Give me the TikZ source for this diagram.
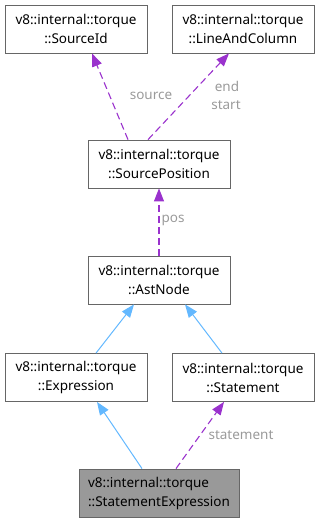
\documentclass[tikz,border=0pt]{standalone}
\usepackage{fontspec}
\setmainfont{Noto Sans}
\usetikzlibrary{arrows.meta}
\definecolor{inh}{HTML}{63B8FF}
\definecolor{use}{HTML}{9A32CD}
\definecolor{lbl}{HTML}{9A9A9A}
\definecolor{frame}{HTML}{666666}
\begin{document}
\begin{tikzpicture}[x=1pt,y=-1pt,
  cls/.style={draw=frame,fill=white,line width=0.8pt,minimum width=142pt,minimum height=48pt,
    align=center,inner sep=0pt,font=\fontsize{13.5}{19}\selectfont},
  cur/.style={cls,fill=black!40,minimum width=160pt},
  inherit/.style={draw=inh,line width=1pt,-{Triangle[length=13pt,width=10pt]}},
  member/.style={draw=use,line width=1.1pt,dash pattern=on 7pt off 4pt,-{Triangle[length=13pt,width=10pt]}},
  elabel/.style={text=lbl,font=\fontsize{13.5}{16}\selectfont,inner sep=0pt}]
\useasboundingbox (0,0) rectangle (320,523);
\node[cls] (sid) at (76,29) {v8::internal::torque\\::SourceId};
\node[cls] (lac) at (243,29) {v8::internal::torque\\::LineAndColumn};
\node[cls] (spos) at (159,164) {v8::internal::torque\\::SourcePosition};
\node[cls] (ast) at (159,280) {v8::internal::torque\\::AstNode};
\node[cls] (expr) at (76,377.5) {v8::internal::torque\\::Expression};
\node[cls] (stmt) at (243,377.5) {v8::internal::torque\\::Statement};
\node[cur,align=left] (sexpr) at (159,493) {v8::internal::torque\\::StatementExpression};
% member relations
\draw[member] (spos.north -| 128,0) -- (sid.south -| 92,0);
\draw[member] (spos.north -| 148,0) -- (lac.south -| 229,0);
\draw[member] (ast.north) -- (spos.south);
\draw[member] (sexpr.north -| 176,0) -- (stmt.south -| 224,0);
% inheritance
\draw[inherit] (expr.north -| 96,0) -- (ast.south -| 134,0);
\draw[inherit] (stmt.north -| 222,0) -- (ast.south -| 185,0);
\draw[inherit] (sexpr.north -| 142,0) -- (expr.south -| 97,0);
% edge labels
\node[elabel] (l1) at (151,96) {source};
\node[elabel] (l2) at (227,86) {end};
\node[elabel] (l3) at (226,105) {start};
\node[elabel] (l4) at (173,220) {pos};
\node[elabel] (l5) at (241,435) {statement};
\end{tikzpicture}
\end{document}
